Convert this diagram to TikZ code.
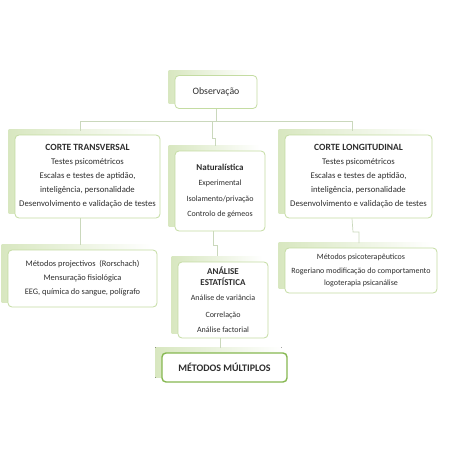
\documentclass[tikz,border=0pt]{standalone}
\usepackage{fontspec}
\setmainfont{Carlito}
\usetikzlibrary{backgrounds}
\definecolor{boxline}{HTML}{C4DCA2}
\definecolor{shadowgreen}{HTML}{D8E7C0}
\definecolor{conn}{HTML}{CAD8BC}
\definecolor{txt}{HTML}{2E2E2E}
\definecolor{mmline}{HTML}{86B851}
\tikzset{
  box/.style={draw=boxline, line width=0.8pt, rounded corners=4pt, fill=white,
    text=txt, align=center, inner sep=2pt, font=\fontsize{8}{14}\selectfont},
  shade/.style={left color=shadowgreen, right color=white, draw=none},
  conn/.style={draw=conn, line width=0.7pt}
}
\newcommand{\shadowof}[1]{\fill[shade] ([shift={(-6,-5)}]#1.north west) rectangle ([shift={(-6,-5)}]#1.south east);}
\newcommand{\hd}[1]{{\fontsize{9.5}{14}\selectfont\bfseries #1}}
\begin{document}
\begin{tikzpicture}[x=1pt,y=-1pt]
\useasboundingbox (0,0) rectangle (450,450);
\node[box, minimum width=82pt, minimum height=33pt, font=\fontsize{9.8}{12}\selectfont] (obs) at (216,92) {Observação};
\node[box, minimum width=145pt, minimum height=83pt, font=\fontsize{8.7}{14}\selectfont] (ct) at (87.5,176.5)
 {\hd{CORTE TRANSVERSAL}\\Testes psicométricos\\Escalas e testes de aptidão,\\inteligência, personalidade\\Desenvolvimento e validação de testes};
\node[box, minimum width=90pt, minimum height=80pt, font=\fontsize{8}{15.5}\selectfont] (nat) at (220,191)
 {{\fontsize{9}{15.5}\selectfont\bfseries Naturalística}\\Experimental\\Isolamento/privação\\Controlo de gémeos};
\node[box, minimum width=147pt, minimum height=83pt, font=\fontsize{8.7}{14}\selectfont] (cl) at (358.5,176.5)
 {\hd{CORTE LONGITUDINAL}\\Testes psicométricos\\Escalas e testes de aptidão,\\inteligência, personalidade\\Desenvolvimento e validação de testes};
\node[box, minimum width=149pt, minimum height=57pt, font=\fontsize{8.4}{14}\selectfont] (mp) at (82.5,278.5)
 {Métodos projectivos\ \ (Rorschach)\\Mensuração fisiológica\\EEG, química do sangue, polígrafo};
\node[box, minimum width=90pt, minimum height=76pt, font=\fontsize{8}{14}\selectfont] (ae) at (223,300)
 {{\fontsize{9}{11}\selectfont\bfseries ANÁLISE}\\[-3pt]{\fontsize{9}{11}\selectfont\bfseries ESTATÍSTICA}\\[1pt]Análise de variância\\[3pt]Correlação\\[1pt]Análise factorial};
\node[box, minimum width=152pt, minimum height=45pt, font=\fontsize{8}{12}\selectfont] (ps) at (361,270.5)
 {Métodos psicoterapêuticos\\[2pt]Rogeriano modificação do comportamento\\logoterapia psicanálise};
\node[box, draw=mmline, line width=1.4pt, minimum width=125pt, minimum height=29pt, font=\fontsize{10}{12}\selectfont\bfseries] (mm) at (224.5,367.5)
 {MÉTODOS MÚLTIPLOS};
\begin{scope}[on background layer]
\shadowof{obs}\shadowof{ct}\shadowof{nat}\shadowof{cl}\shadowof{mp}\shadowof{ae}\shadowof{ps}\shadowof{mm}
\coordinate (h) at (216,121);
\coordinate (hl) at (80,121);
\coordinate (hr) at (352,121);
\draw[conn] (obs.south) -- (h);
\draw[conn] (hl) -- (hr);
\draw[conn] (hl) -- (80,131);
\draw[conn] (hr) -- (352,131);
\draw[conn] (212,121) -- (212,138) -- (215,138) -- (215,146);
\draw[conn] (ct.south -| hl) -- (80,245);
\draw[conn] (213,231) -- (213,245) -- (217,245) -- (217,256);
\draw[conn] (cl.south -| hr) -- (353,232) -- (359,232) -- (359,243);
\draw[conn] (220,338) -- (220,348);
\end{scope}
\end{tikzpicture}
\end{document}
